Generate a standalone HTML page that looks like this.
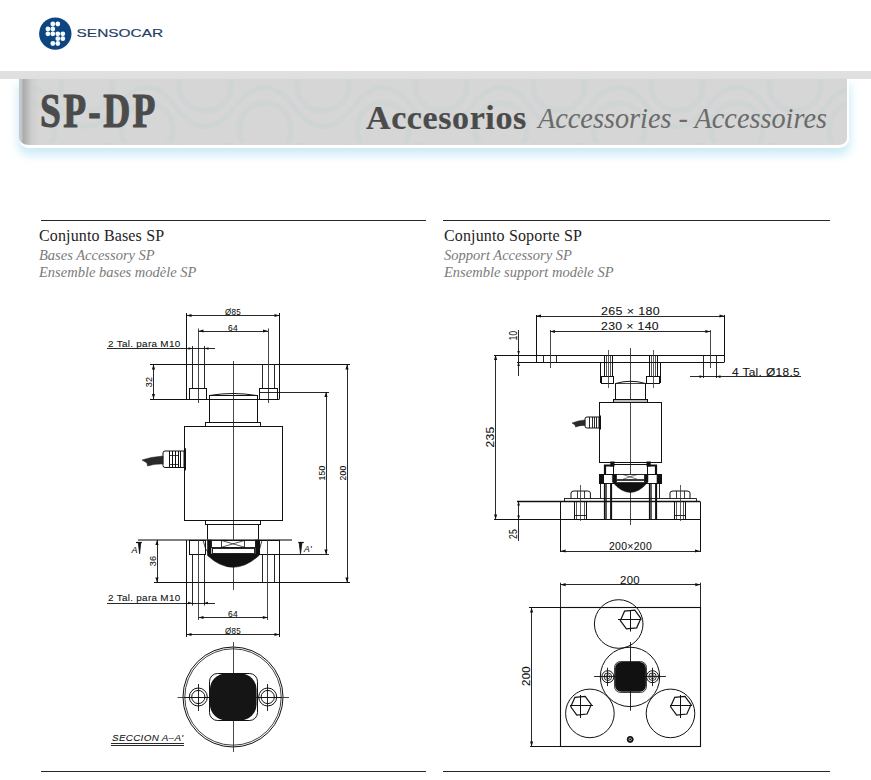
<!DOCTYPE html>
<html><head><meta charset="utf-8">
<style>
html,body{margin:0;padding:0;background:#fff;}
body{width:871px;height:780px;position:relative;overflow:hidden;font-family:"Liberation Serif",serif;}
.abs{position:absolute;white-space:nowrap;line-height:1;}
#band{position:absolute;left:0;top:71px;width:871px;height:8px;background:#e0e0e0;}
#panel{overflow:hidden;position:absolute;left:19px;top:79px;width:828px;height:66px;background:linear-gradient(90deg,#c6ccce 0px,#c0c6c8 3px,#a9a9aa 4px,#b6b6b6 7px,#cecece 13px,#d6d6d6 20px);border:0 solid #fff;border-right-width:2px;border-bottom-width:3px;border-radius:0 0 10px 10px;box-shadow:0 6px 10px 1px rgba(140,210,235,0.45);}
.t1{font-family:"Liberation Serif",serif;font-weight:bold;color:#4b4b4b;transform-origin:0 0;}
.t2{font-family:"Liberation Serif",serif;font-style:italic;color:#6b6b6b;transform-origin:0 0;}
.sec{font-family:"Liberation Serif",serif;color:#1e1e1e;transform-origin:0 0;}
.sub{font-family:"Liberation Serif",serif;font-style:italic;color:#7a7a7a;transform-origin:0 0;}
.rule{position:absolute;height:1px;background:#262626;}
svg{position:absolute;left:0;top:0;}
</style></head>
<body>
<!-- logo -->
<svg width="871" height="780" viewBox="0 0 871 780">
  <circle cx="55.3" cy="33.6" r="16.2" fill="#0c4580"/>
  <g fill="#f4fbff">
    <circle cx="52.8" cy="24" r="2.4"/><circle cx="57.8" cy="24" r="2.4"/>
    <circle cx="47.9" cy="29" r="2.4"/><circle cx="52.8" cy="29" r="2.4"/>
    <circle cx="47.9" cy="33.8" r="2.4"/><circle cx="52.8" cy="33.8" r="2.4"/><circle cx="57.8" cy="33.8" r="2.4"/><circle cx="62.8" cy="33.8" r="2.4"/>
    <circle cx="57.8" cy="38.7" r="2.4"/><circle cx="62.8" cy="38.7" r="2.4"/>
    <circle cx="52.8" cy="43.5" r="2.4"/><circle cx="57.8" cy="43.5" r="2.4"/>
  </g>
  <text x="76.6" y="36.5" font-family="Liberation Sans" font-size="10.3" fill="#1f3e66" stroke="#1f3e66" stroke-width="0.15" textLength="86.5" lengthAdjust="spacingAndGlyphs">SENSOCAR</text>
</svg>

<div id="band"></div>
<div id="panel"><svg width="828" height="66" style="position:absolute;left:0;top:0;border-radius:0 0 10px 10px">
<defs><pattern id="wv" width="118" height="72" patternUnits="userSpaceOnUse" x="-20" y="-8">
<path d="M0,36 C20,10 40,10 59,36 S98,62 118,36" stroke="rgba(185,205,208,0.24)" stroke-width="5" fill="none"/>
<circle cx="30" cy="58" r="26" stroke="rgba(185,205,208,0.2)" stroke-width="6" fill="none"/>
<circle cx="88" cy="14" r="26" stroke="rgba(185,205,208,0.2)" stroke-width="6" fill="none"/>
</pattern></defs>
<rect x="14" y="0" width="814" height="66" fill="url(#wv)"/></svg></div>

<div class="abs t1" id="spdp" style="left:40px;top:87px;font-size:48px;letter-spacing:3px;transform:scaleX(0.78);-webkit-text-stroke:1.1px #4b4b4b;">SP-DP</div>
<div class="abs t1" id="acc" style="left:366px;top:101px;font-size:34px;transform:scaleX(1.0);-webkit-text-stroke:0.2px #4b4b4b;letter-spacing:0.6px;">Accesorios</div>
<div class="abs t2" id="acc2" style="left:538px;top:104px;font-size:29px;transform:scaleX(0.975);">Accessories - Accessoires</div>

<div class="rule" style="left:41px;top:220px;width:385px;"></div>
<div class="rule" style="left:443px;top:220px;width:387px;"></div>
<div class="rule" style="left:41px;top:771px;width:385px;"></div>
<div class="rule" style="left:443px;top:771px;width:387px;"></div>

<div class="abs sec" id="s1" style="left:39px;top:228px;font-size:16px;letter-spacing:0.15px;">Conjunto Bases SP</div>
<div class="abs sub" id="s1a" style="left:39px;top:247.5px;font-size:14.5px;">Bases Accessory SP</div>
<div class="abs sub" id="s1b" style="left:39px;top:264.5px;font-size:14.5px;">Ensemble bases modèle SP</div>
<div class="abs sec" id="s2" style="left:444px;top:228px;font-size:16px;letter-spacing:0.15px;">Conjunto Soporte SP</div>
<div class="abs sub" id="s2a" style="left:444px;top:247.5px;font-size:14.5px;">Sopport Accessory SP</div>
<div class="abs sub" id="s2b" style="left:444px;top:264.5px;font-size:14.5px;">Ensemble support modèle SP</div>

<!--DRAWINGS-->
<svg width="871" height="780" viewBox="0 0 871 780" style="position:absolute;left:0;top:0">
<line x1="233.5" y1="361" x2="233.5" y2="590" stroke="#333" stroke-width="0.9" />
<line x1="150" y1="364.5" x2="350" y2="364.5" stroke="#111" stroke-width="1" />
<line x1="150" y1="399.5" x2="279.5" y2="399.5" stroke="#111" stroke-width="1" />
<line x1="186.5" y1="313" x2="186.5" y2="399" stroke="#111" stroke-width="1" />
<line x1="279.5" y1="313" x2="279.5" y2="399" stroke="#111" stroke-width="1" />
<line x1="192.5" y1="346" x2="192.5" y2="388.5" stroke="#111" stroke-width="0.9" />
<line x1="204.5" y1="346" x2="204.5" y2="388.5" stroke="#111" stroke-width="0.9" />
<line x1="262.5" y1="364.5" x2="262.5" y2="388.5" stroke="#111" stroke-width="0.9" />
<line x1="274.5" y1="364.5" x2="274.5" y2="388.5" stroke="#111" stroke-width="0.9" />
<line x1="198.5" y1="328.5" x2="198.5" y2="403" stroke="#333" stroke-width="0.9" />
<line x1="268.5" y1="328.5" x2="268.5" y2="403" stroke="#333" stroke-width="0.9" />
<rect x="189.5" y="388.5" width="17.00" height="11.00" rx="0" stroke="#111" stroke-width="1" fill="none"/>
<rect x="259.5" y="388.5" width="18.00" height="11.00" rx="0" stroke="#111" stroke-width="1" fill="none"/>
<path d="M209.5,395.5 Q233,391.5 256.5,395.5" stroke="#111" stroke-width="1" fill="none"/>
<line x1="209" y1="395.5" x2="257" y2="395.5" stroke="#111" stroke-width="0.8" />
<rect x="209.5" y="395.5" width="48.00" height="27.00" rx="0" stroke="#111" stroke-width="1" fill="none"/>
<rect x="205.5" y="422.5" width="55.00" height="4.00" rx="0" stroke="#111" stroke-width="1" fill="none"/>
<rect x="184.5" y="426.5" width="98.00" height="94.00" rx="0" stroke="#111" stroke-width="1" fill="none"/>
<rect x="184" y="448.3" width="2.00" height="22.00" rx="0" stroke="#111" stroke-width="0" fill="#111"/>
<path d="M165,451 L184,451 L184,467.5 L165,467.5 Q163,467.5 163,465.5 L163,453 Q163,451 165,451 Z" stroke="#111" stroke-width="1" fill="none"/>
<line x1="169.5" y1="451" x2="169.5" y2="467.5" stroke="#111" stroke-width="1" />
<line x1="172.5" y1="451" x2="172.5" y2="467.5" stroke="#111" stroke-width="1" />
<line x1="175.5" y1="451" x2="175.5" y2="467.5" stroke="#111" stroke-width="1" />
<line x1="178.5" y1="451" x2="178.5" y2="467.5" stroke="#111" stroke-width="1" />
<line x1="180.5" y1="451" x2="180.5" y2="467.5" stroke="#111" stroke-width="1" />
<line x1="169.5" y1="455.5" x2="178.5" y2="455.5" stroke="#111" stroke-width="0.8" />
<line x1="169.5" y1="464.5" x2="178.5" y2="464.5" stroke="#111" stroke-width="0.8" />
<path d="M163,456 Q150,457 142,460 L147,463 L147.5,466 Q155,463.5 163,464 Z" stroke="#222" stroke-width="0.5" fill="#2a2a2a"/>
<rect x="205.5" y="520.5" width="55.00" height="4.00" rx="0" stroke="#111" stroke-width="1" fill="none"/>
<rect x="207.5" y="524.5" width="51.00" height="16.00" rx="0" stroke="#111" stroke-width="1" fill="none"/>
<line x1="138" y1="540" x2="292" y2="540" stroke="#555" stroke-width="1.4" />
<line x1="154" y1="582.5" x2="350" y2="582.5" stroke="#111" stroke-width="1" />
<line x1="186.5" y1="540" x2="186.5" y2="637" stroke="#111" stroke-width="1" />
<line x1="279.5" y1="540" x2="279.5" y2="637" stroke="#111" stroke-width="1" />
<rect x="189.5" y="540.5" width="16.00" height="14.00" rx="0" stroke="#111" stroke-width="1" fill="none"/>
<rect x="259.5" y="540.5" width="20.00" height="14.00" rx="0" stroke="#111" stroke-width="1" fill="none"/>
<path d="M203,540 Q205,550 209,554" stroke="#111" stroke-width="0.8" fill="none"/>
<path d="M262,540 Q260,550 257,554" stroke="#111" stroke-width="0.8" fill="none"/>
<line x1="192.5" y1="554.5" x2="192.5" y2="582.5" stroke="#111" stroke-width="0.9" />
<line x1="204.5" y1="554.5" x2="204.5" y2="582.5" stroke="#111" stroke-width="0.9" />
<line x1="262.5" y1="554.5" x2="262.5" y2="582.5" stroke="#111" stroke-width="0.9" />
<line x1="274.5" y1="554.5" x2="274.5" y2="582.5" stroke="#111" stroke-width="0.9" />
<line x1="192.5" y1="582.5" x2="192.5" y2="605.5" stroke="#111" stroke-width="0.9" />
<line x1="204.5" y1="582.5" x2="204.5" y2="605.5" stroke="#111" stroke-width="0.9" />
<line x1="198.5" y1="540" x2="198.5" y2="620" stroke="#333" stroke-width="0.9" />
<line x1="267.5" y1="540" x2="267.5" y2="620" stroke="#333" stroke-width="0.9" />
<path d="M207.5,540 L211,540 L211,554 L255.5,554 L255.5,540 L259,540 L259,555.5 Q233,579 207.5,555.5 Z" stroke="#111" stroke-width="0.6" fill="#111"/>
<rect x="211.5" y="540.5" width="44.00" height="7.00" rx="0" stroke="#111" stroke-width="0.9" fill="#fff"/>
<rect x="212.5" y="548.5" width="42.00" height="5.00" rx="0" stroke="#111" stroke-width="0.9" fill="#fff"/>
<rect x="221.5" y="540.5" width="23.00" height="7.00" rx="0" stroke="#111" stroke-width="0.8" fill="none"/>
<line x1="221.7" y1="540.5" x2="244.4" y2="547.2" stroke="#111" stroke-width="0.7" />
<line x1="221.7" y1="547.2" x2="244.4" y2="540.5" stroke="#111" stroke-width="0.7" />
<line x1="186.5" y1="315.5" x2="279.5" y2="315.5" stroke="#111" stroke-width="0.9" />
<path d="M186.5,315.5 L191.5,313.9 L191.5,317.1 Z" fill="#111"/>
<path d="M279.5,315.5 L274.5,313.9 L274.5,317.1 Z" fill="#111"/>
<text x="233" y="315" font-family="Liberation Sans" font-size="8.6" text-anchor="middle" fill="#111" stroke="#111" stroke-width="0.08" letter-spacing="0.3" textLength="16" lengthAdjust="spacingAndGlyphs" >Ø85</text>
<line x1="198.5" y1="331.5" x2="268" y2="331.5" stroke="#111" stroke-width="0.9" />
<path d="M198.5,331 L203.5,329.4 L203.5,332.6 Z" fill="#111"/>
<path d="M268,331 L263,329.4 L263,332.6 Z" fill="#111"/>
<text x="233" y="330.5" font-family="Liberation Sans" font-size="8.6" text-anchor="middle" fill="#111" stroke="#111" stroke-width="0.08" letter-spacing="0.3" textLength="10" lengthAdjust="spacingAndGlyphs" >64</text>
<text x="108" y="346.7" font-family="Liberation Sans" font-size="9.4" text-anchor="start" fill="#111" stroke="#111" stroke-width="0.08" letter-spacing="0.3" textLength="72.5" lengthAdjust="spacingAndGlyphs" >2 Tal. para M10</text>
<line x1="107" y1="348.5" x2="215" y2="348.5" stroke="#111" stroke-width="0.9" />
<path d="M192.5,348.5 L188.5,347.2 L188.5,349.8 Z" fill="#111"/>
<path d="M204.5,348.5 L208.5,347.2 L208.5,349.8 Z" fill="#111"/>
<line x1="153.5" y1="364.5" x2="153.5" y2="399" stroke="#111" stroke-width="0.9" />
<path d="M153.5,364.5 L151.9,369.5 L155.1,369.5 Z" fill="#111"/>
<path d="M153.5,399 L151.9,394 L155.1,394 Z" fill="#111"/>
<text x="152" y="382" font-family="Liberation Sans" font-size="9" text-anchor="middle" fill="#111" stroke="#111" stroke-width="0.08" letter-spacing="0.3" transform="rotate(-90 152 382)" >32</text>
<line x1="260" y1="392.5" x2="329" y2="392.5" stroke="#111" stroke-width="0.9" />
<line x1="326.5" y1="392" x2="326.5" y2="554.5" stroke="#111" stroke-width="0.9" />
<path d="M326,392 L324.4,397 L327.6,397 Z" fill="#111"/>
<path d="M326,554.5 L324.4,549.5 L327.6,549.5 Z" fill="#111"/>
<text x="324.5" y="473" font-family="Liberation Sans" font-size="9" text-anchor="middle" fill="#111" stroke="#111" stroke-width="0.08" letter-spacing="0.3" transform="rotate(-90 324.5 473)" textLength="15" lengthAdjust="spacingAndGlyphs" >150</text>
<line x1="347.5" y1="364.5" x2="347.5" y2="582.5" stroke="#111" stroke-width="0.9" />
<path d="M347,364.5 L345.4,369.5 L348.6,369.5 Z" fill="#111"/>
<path d="M347,582.5 L345.4,577.5 L348.6,577.5 Z" fill="#111"/>
<text x="346" y="473" font-family="Liberation Sans" font-size="9" text-anchor="middle" fill="#111" stroke="#111" stroke-width="0.08" letter-spacing="0.3" transform="rotate(-90 346 473)" textLength="15" lengthAdjust="spacingAndGlyphs" >200</text>
<line x1="279.5" y1="554.5" x2="329" y2="554.5" stroke="#111" stroke-width="0.9" />
<line x1="157.5" y1="540" x2="157.5" y2="582.5" stroke="#111" stroke-width="0.9" />
<path d="M157,540 L155.4,545 L158.6,545 Z" fill="#111"/>
<path d="M157,582.5 L155.4,577.5 L158.6,577.5 Z" fill="#111"/>
<text x="155.5" y="561" font-family="Liberation Sans" font-size="9" text-anchor="middle" fill="#111" stroke="#111" stroke-width="0.08" letter-spacing="0.3" transform="rotate(-90 155.5 561)" >36</text>
<line x1="136" y1="542.5" x2="141.8" y2="542.5" stroke="#111" stroke-width="1.2" />
<path d="M138.3,542.5 L140.8,542.5 L139.6,553.8 Z" stroke="#111" stroke-width="0.8" fill="#111"/>
<text x="131.5" y="553" font-family="Liberation Sans" font-size="9" text-anchor="start" fill="#111" stroke="#111" stroke-width="0.08" letter-spacing="0.3" font-style="italic">A</text>
<line x1="298.3" y1="542.5" x2="303.8" y2="542.5" stroke="#111" stroke-width="1.2" />
<path d="M299.2,542.5 L302,542.5 L300.5,553.8 Z" stroke="#111" stroke-width="0.8" fill="#111"/>
<text x="304" y="551.8" font-family="Liberation Sans" font-size="8.6" text-anchor="start" fill="#111" stroke="#111" stroke-width="0.08" letter-spacing="0.3" font-style="italic">A'</text>
<text x="108" y="600.5" font-family="Liberation Sans" font-size="9.4" text-anchor="start" fill="#111" stroke="#111" stroke-width="0.08" letter-spacing="0.3" textLength="72.5" lengthAdjust="spacingAndGlyphs" >2 Tal. para M10</text>
<line x1="107" y1="603.5" x2="215" y2="603.5" stroke="#111" stroke-width="0.9" />
<path d="M192,603 L188,601.7 L188,604.3 Z" fill="#111"/>
<path d="M204,603 L208,601.7 L208,604.3 Z" fill="#111"/>
<line x1="198.5" y1="617.5" x2="267.8" y2="617.5" stroke="#111" stroke-width="0.9" />
<path d="M198.5,617.5 L203.5,615.9 L203.5,619.1 Z" fill="#111"/>
<path d="M267.8,617.5 L262.8,615.9 L262.8,619.1 Z" fill="#111"/>
<text x="233" y="617.3" font-family="Liberation Sans" font-size="8.6" text-anchor="middle" fill="#111" stroke="#111" stroke-width="0.08" letter-spacing="0.3" textLength="10" lengthAdjust="spacingAndGlyphs" >64</text>
<line x1="186.5" y1="634.5" x2="279.5" y2="634.5" stroke="#111" stroke-width="0.9" />
<path d="M186.5,634.5 L191.5,632.9 L191.5,636.1 Z" fill="#111"/>
<path d="M279.5,634.5 L274.5,632.9 L274.5,636.1 Z" fill="#111"/>
<text x="233" y="634.3" font-family="Liberation Sans" font-size="8.6" text-anchor="middle" fill="#111" stroke="#111" stroke-width="0.08" letter-spacing="0.3" textLength="16" lengthAdjust="spacingAndGlyphs" >Ø85</text>
<circle cx="233" cy="697" r="50" stroke="#111" stroke-width="1" fill="none"/>
<circle cx="233" cy="697" r="48.2" stroke="#111" stroke-width="0.8" fill="none"/>
<line x1="233.5" y1="642" x2="233.5" y2="752" stroke="#333" stroke-width="0.9" />
<line x1="177.5" y1="697.5" x2="289" y2="697.5" stroke="#333" stroke-width="0.9" />
<rect x="209.5" y="673.5" width="48.00" height="47.00" rx="8" stroke="#111" stroke-width="1" fill="none"/>
<rect x="209.9" y="673.6" width="46.70" height="46.70" rx="16" stroke="#111" stroke-width="0" fill="#151515"/>
<circle cx="198.3" cy="697" r="9.0" stroke="#111" stroke-width="1" fill="none"/>
<circle cx="198.3" cy="697" r="6.6" stroke="#111" stroke-width="1" fill="none"/>
<line x1="184.3" y1="697.5" x2="212.3" y2="697.5" stroke="#111" stroke-width="0.9" />
<line x1="198.5" y1="684" x2="198.5" y2="711" stroke="#111" stroke-width="0.9" />
<circle cx="267.7" cy="697" r="9.0" stroke="#111" stroke-width="1" fill="none"/>
<circle cx="267.7" cy="697" r="6.6" stroke="#111" stroke-width="1" fill="none"/>
<line x1="253.7" y1="697.5" x2="281.7" y2="697.5" stroke="#111" stroke-width="0.9" />
<line x1="267.5" y1="684" x2="267.5" y2="711" stroke="#111" stroke-width="0.9" />
<text x="112" y="741.3" font-family="Liberation Sans" font-size="9.5" text-anchor="start" fill="#111" stroke="#111" stroke-width="0.08" letter-spacing="0.3" textLength="71.5" lengthAdjust="spacingAndGlyphs" font-style="italic">SECCION  A–A'</text>
<line x1="111" y1="743.5" x2="184" y2="743.5" stroke="#111" stroke-width="0.9" />
<line x1="111" y1="745.5" x2="184" y2="745.5" stroke="#111" stroke-width="0.9" />
<line x1="630.5" y1="348" x2="630.5" y2="525" stroke="#333" stroke-width="0.9" />
<line x1="494" y1="355.5" x2="724.5" y2="355.5" stroke="#111" stroke-width="1" />
<line x1="517" y1="362.5" x2="724.5" y2="362.5" stroke="#111" stroke-width="1" />
<line x1="536.5" y1="315" x2="536.5" y2="362" stroke="#111" stroke-width="1" />
<line x1="724.5" y1="315" x2="724.5" y2="362" stroke="#111" stroke-width="1" />
<line x1="543.5" y1="355" x2="543.5" y2="362" stroke="#111" stroke-width="0.9" />
<line x1="556.5" y1="355" x2="556.5" y2="362" stroke="#111" stroke-width="0.9" />
<line x1="550.5" y1="330" x2="550.5" y2="368" stroke="#333" stroke-width="0.9" />
<line x1="710.5" y1="330" x2="710.5" y2="368" stroke="#333" stroke-width="0.9" />
<line x1="703.5" y1="355" x2="703.5" y2="378" stroke="#111" stroke-width="0.9" />
<line x1="716.5" y1="355" x2="716.5" y2="378" stroke="#111" stroke-width="0.9" />
<line x1="536" y1="316.5" x2="724.5" y2="316.5" stroke="#111" stroke-width="0.9" />
<path d="M536,316 L541,314.4 L541,317.6 Z" fill="#111"/>
<path d="M724.5,316 L719.5,314.4 L719.5,317.6 Z" fill="#111"/>
<text x="630.5" y="315" font-family="Liberation Sans" font-size="10.3" text-anchor="middle" fill="#111" stroke="#111" stroke-width="0.08" letter-spacing="0.3" textLength="59" lengthAdjust="spacingAndGlyphs" >265 × 180</text>
<line x1="550" y1="331.5" x2="710.4" y2="331.5" stroke="#111" stroke-width="0.9" />
<path d="M550,331.5 L555,329.9 L555,333.1 Z" fill="#111"/>
<path d="M710.4,331.5 L705.4,329.9 L705.4,333.1 Z" fill="#111"/>
<text x="630" y="330.2" font-family="Liberation Sans" font-size="10.3" text-anchor="middle" fill="#111" stroke="#111" stroke-width="0.08" letter-spacing="0.3" textLength="58" lengthAdjust="spacingAndGlyphs" >230 × 140</text>
<line x1="518.5" y1="330" x2="518.5" y2="376" stroke="#111" stroke-width="0.9" />
<path d="M518.6,355 L517.3000000000001,351 L519.9,351 Z" fill="#111"/>
<path d="M518.6,362 L517.3000000000001,366 L519.9,366 Z" fill="#111"/>
<text x="517" y="335.5" font-family="Liberation Sans" font-size="10" text-anchor="middle" fill="#111" stroke="#111" stroke-width="0.08" letter-spacing="0.3" transform="rotate(-90 517 335.5)" textLength="9.5" lengthAdjust="spacingAndGlyphs" >10</text>
<line x1="495.5" y1="355" x2="495.5" y2="519.4" stroke="#111" stroke-width="0.9" />
<path d="M495.6,355 L494.0,360 L497.20000000000005,360 Z" fill="#111"/>
<path d="M495.6,519.4 L494.0,514.4 L497.20000000000005,514.4 Z" fill="#111"/>
<text x="494" y="437" font-family="Liberation Sans" font-size="10.5" text-anchor="middle" fill="#111" stroke="#111" stroke-width="0.08" letter-spacing="0.3" transform="rotate(-90 494 437)" textLength="21" lengthAdjust="spacingAndGlyphs" >235</text>
<text x="732" y="375.5" font-family="Liberation Sans" font-size="10.3" text-anchor="start" fill="#111" stroke="#111" stroke-width="0.08" letter-spacing="0.3" textLength="68" lengthAdjust="spacingAndGlyphs" >4  Tal.  Ø18.5</text>
<line x1="690" y1="376.5" x2="801" y2="376.5" stroke="#111" stroke-width="0.9" />
<path d="M703.5,376.6 L699.5,375.3 L699.5,377.90000000000003 Z" fill="#111"/>
<path d="M716.5,376.6 L720.5,375.3 L720.5,377.90000000000003 Z" fill="#111"/>
<rect x="604.5" y="355.5" width="8.00" height="21.00" rx="0" stroke="#111" stroke-width="1" fill="none"/>
<line x1="606.5" y1="355" x2="606.5" y2="376.6" stroke="#111" stroke-width="0.7" />
<line x1="610.5" y1="355" x2="610.5" y2="376.6" stroke="#111" stroke-width="0.7" />
<rect x="601.5" y="376.5" width="12.00" height="7.00" rx="0" stroke="#111" stroke-width="1" fill="none"/>
<line x1="600.5" y1="362" x2="600.5" y2="383" stroke="#111" stroke-width="1" />
<line x1="608.5" y1="350" x2="608.5" y2="388" stroke="#333" stroke-width="0.8" />
<rect x="649.5" y="355.5" width="8.00" height="21.00" rx="0" stroke="#111" stroke-width="1" fill="none"/>
<line x1="651.5" y1="355" x2="651.5" y2="376.6" stroke="#111" stroke-width="0.7" />
<line x1="655.5" y1="355" x2="655.5" y2="376.6" stroke="#111" stroke-width="0.7" />
<rect x="646.5" y="376.5" width="13.00" height="7.00" rx="0" stroke="#111" stroke-width="1" fill="none"/>
<line x1="660.5" y1="362" x2="660.5" y2="383" stroke="#111" stroke-width="1" />
<line x1="653.5" y1="350" x2="653.5" y2="388" stroke="#333" stroke-width="0.8" />
<path d="M615.5,383.5 Q630.5,379 645.5,383.5" stroke="#111" stroke-width="1" fill="none"/>
<line x1="615.5" y1="383.5" x2="615.5" y2="399" stroke="#111" stroke-width="1" />
<line x1="645.5" y1="383.5" x2="645.5" y2="399" stroke="#111" stroke-width="1" />
<line x1="615" y1="383.5" x2="646" y2="383.5" stroke="#111" stroke-width="0.8" />
<rect x="613.5" y="399.5" width="34.00" height="3.00" rx="0" stroke="#111" stroke-width="1" fill="#bbb"/>
<rect x="599.5" y="402.5" width="62.00" height="60.00" rx="0" stroke="#111" stroke-width="1" fill="none"/>
<rect x="599" y="415.5" width="2.00" height="14.00" rx="0" stroke="#111" stroke-width="0" fill="#111"/>
<path d="M587,417 L599,417 L599,428 L587,428 Q585,428 585,426 L585,419 Q585,417 587,417 Z" stroke="#111" stroke-width="1" fill="none"/>
<line x1="589.5" y1="417" x2="589.5" y2="428" stroke="#111" stroke-width="0.9" />
<line x1="592.5" y1="417" x2="592.5" y2="428" stroke="#111" stroke-width="0.9" />
<line x1="594.5" y1="417" x2="594.5" y2="428" stroke="#111" stroke-width="0.9" />
<line x1="596.5" y1="417" x2="596.5" y2="428" stroke="#111" stroke-width="0.9" />
<path d="M585,420 Q578,420.5 572,423 L575,425 L575.5,427 Q580,425 585,425.5 Z" stroke="#222" stroke-width="0.5" fill="#2a2a2a"/>
<rect x="610.3" y="461.5" width="4.20" height="5.00" rx="0" stroke="#111" stroke-width="0" fill="#111"/>
<rect x="646.5" y="461.5" width="4.20" height="5.00" rx="0" stroke="#111" stroke-width="0" fill="#111"/>
<line x1="614" y1="464.5" x2="647" y2="464.5" stroke="#111" stroke-width="1" />
<path d="M605,475 L605,465.5 L613.5,465.5" stroke="#111" stroke-width="2.2" fill="none"/>
<path d="M656,475 L656,465.5 L647.5,465.5" stroke="#111" stroke-width="2.2" fill="none"/>
<line x1="613.5" y1="466" x2="613.5" y2="475" stroke="#111" stroke-width="1" />
<line x1="647.5" y1="466" x2="647.5" y2="475" stroke="#111" stroke-width="1" />
<rect x="599.5" y="474.5" width="62.00" height="9.00" rx="0" stroke="#111" stroke-width="1" fill="none"/>
<rect x="599" y="474.5" width="5.00" height="8.80" rx="0" stroke="#111" stroke-width="0" fill="#111"/>
<rect x="656.7" y="474.5" width="5.00" height="8.80" rx="0" stroke="#111" stroke-width="0" fill="#111"/>
<path d="M612.4,475 L616,475 L616,483 L644,483 L644,475 L648,475 L648,482 Q630.5,503 612.4,482 Z" stroke="#111" stroke-width="0.5" fill="#111"/>
<rect x="616.5" y="474.5" width="28.00" height="5.00" rx="0" stroke="#111" stroke-width="0.8" fill="#fff"/>
<rect x="616.5" y="480.5" width="28.00" height="2.00" rx="0" stroke="#111" stroke-width="0.8" fill="#fff"/>
<line x1="623" y1="474.5" x2="637" y2="479.2" stroke="#111" stroke-width="0.6" />
<line x1="623" y1="479.2" x2="637" y2="474.5" stroke="#111" stroke-width="0.6" />
<line x1="604.8" y1="483.3" x2="604.8" y2="519.4" stroke="#111" stroke-width="1.8" />
<line x1="611.2" y1="483.3" x2="611.2" y2="519.4" stroke="#111" stroke-width="1.8" />
<line x1="604" y1="519.5" x2="612" y2="519.5" stroke="#111" stroke-width="1" />
<line x1="606.5" y1="483.3" x2="606.5" y2="519.4" stroke="#111" stroke-width="0.7" />
<line x1="610.5" y1="483.3" x2="610.5" y2="519.4" stroke="#111" stroke-width="0.7" />
<line x1="649.8" y1="483.3" x2="649.8" y2="519.4" stroke="#111" stroke-width="1.8" />
<line x1="656.2" y1="483.3" x2="656.2" y2="519.4" stroke="#111" stroke-width="1.8" />
<line x1="649" y1="519.5" x2="657" y2="519.5" stroke="#111" stroke-width="1" />
<line x1="651.5" y1="483.3" x2="651.5" y2="519.4" stroke="#111" stroke-width="0.7" />
<line x1="655.5" y1="483.3" x2="655.5" y2="519.4" stroke="#111" stroke-width="0.7" />
<line x1="600.5" y1="483.3" x2="600.5" y2="498.4" stroke="#111" stroke-width="0.9" />
<line x1="659.5" y1="483.3" x2="659.5" y2="498.4" stroke="#111" stroke-width="0.9" />
<line x1="564" y1="498.5" x2="696.4" y2="498.5" stroke="#111" stroke-width="0.9" />
<line x1="564.5" y1="498.4" x2="564.5" y2="501" stroke="#111" stroke-width="0.9" />
<line x1="696.5" y1="498.4" x2="696.5" y2="501" stroke="#111" stroke-width="0.9" />
<line x1="517" y1="501.5" x2="700" y2="501.5" stroke="#111" stroke-width="1.3" />
<line x1="494" y1="519.5" x2="700" y2="519.5" stroke="#111" stroke-width="1.2" />
<line x1="560.5" y1="501.5" x2="560.5" y2="552" stroke="#111" stroke-width="1" />
<line x1="700.5" y1="501.5" x2="700.5" y2="552" stroke="#111" stroke-width="1" />
<path d="M571,498.4 L571,493 Q571,491 574,491 L587.4,491 Q590.4,491 590.4,493 L590.4,498.4" stroke="#111" stroke-width="1" fill="none"/>
<line x1="577.5" y1="491" x2="577.5" y2="498.4" stroke="#111" stroke-width="0.8" />
<line x1="584.5" y1="491" x2="584.5" y2="498.4" stroke="#111" stroke-width="0.8" />
<rect x="574.5" y="501.5" width="12.00" height="18.00" rx="0" stroke="#111" stroke-width="1" fill="none"/>
<line x1="576.5" y1="501.5" x2="576.5" y2="519.4" stroke="#111" stroke-width="0.7" />
<line x1="584.5" y1="501.5" x2="584.5" y2="519.4" stroke="#111" stroke-width="0.7" />
<line x1="574.4" y1="515.5" x2="586.4" y2="515.5" stroke="#111" stroke-width="0.9" />
<line x1="580.5" y1="485" x2="580.5" y2="521" stroke="#333" stroke-width="0.8" />
<path d="M670,498.4 L670,493 Q670,491 673,491 L687,491 Q690,491 690,493 L690,498.4" stroke="#111" stroke-width="1" fill="none"/>
<line x1="676.5" y1="491" x2="676.5" y2="498.4" stroke="#111" stroke-width="0.8" />
<line x1="684.5" y1="491" x2="684.5" y2="498.4" stroke="#111" stroke-width="0.8" />
<rect x="674.5" y="501.5" width="11.00" height="18.00" rx="0" stroke="#111" stroke-width="1" fill="none"/>
<line x1="676.5" y1="501.5" x2="676.5" y2="519.4" stroke="#111" stroke-width="0.7" />
<line x1="683.5" y1="501.5" x2="683.5" y2="519.4" stroke="#111" stroke-width="0.7" />
<line x1="674.4" y1="515.5" x2="685.6" y2="515.5" stroke="#111" stroke-width="0.9" />
<line x1="680.5" y1="485" x2="680.5" y2="521" stroke="#333" stroke-width="0.8" />
<line x1="518.5" y1="501.5" x2="518.5" y2="541" stroke="#111" stroke-width="0.9" />
<path d="M518.6,501.5 L517.3000000000001,505.5 L519.9,505.5 Z" fill="#111"/>
<path d="M518.6,519.4 L517.3000000000001,515.4 L519.9,515.4 Z" fill="#111"/>
<text x="517" y="534" font-family="Liberation Sans" font-size="10" text-anchor="middle" fill="#111" stroke="#111" stroke-width="0.08" letter-spacing="0.3" transform="rotate(-90 517 534)" textLength="10" lengthAdjust="spacingAndGlyphs" >25</text>
<line x1="560.6" y1="551.5" x2="700" y2="551.5" stroke="#111" stroke-width="0.9" />
<path d="M560.6,551 L565.6,549.4 L565.6,552.6 Z" fill="#111"/>
<path d="M700,551 L695,549.4 L695,552.6 Z" fill="#111"/>
<text x="630.5" y="550.2" font-family="Liberation Sans" font-size="10.5" text-anchor="middle" fill="#111" stroke="#111" stroke-width="0.08" letter-spacing="0.3" textLength="43" lengthAdjust="spacingAndGlyphs" >200×200</text>
<rect x="560.5" y="607.5" width="140.00" height="139.00" rx="0" stroke="#111" stroke-width="1.1" fill="none"/>
<line x1="529" y1="607.5" x2="560.6" y2="607.5" stroke="#111" stroke-width="1" />
<line x1="530" y1="746.5" x2="560.6" y2="746.5" stroke="#111" stroke-width="1" />
<line x1="531.5" y1="607.4" x2="531.5" y2="746.5" stroke="#111" stroke-width="0.9" />
<path d="M531.6,607.4 L530.0,612.4 L533.2,612.4 Z" fill="#111"/>
<path d="M531.6,746.5 L530.0,741.5 L533.2,741.5 Z" fill="#111"/>
<text x="530" y="676" font-family="Liberation Sans" font-size="10.5" text-anchor="middle" fill="#111" stroke="#111" stroke-width="0.08" letter-spacing="0.3" transform="rotate(-90 530 676)" textLength="20" lengthAdjust="spacingAndGlyphs" >200</text>
<line x1="560.6" y1="584.5" x2="700.3" y2="584.5" stroke="#111" stroke-width="0.9" />
<path d="M560.6,584.7 L565.6,583.1 L565.6,586.3000000000001 Z" fill="#111"/>
<path d="M700.3,584.7 L695.3,583.1 L695.3,586.3000000000001 Z" fill="#111"/>
<line x1="560.5" y1="582.7" x2="560.5" y2="607.4" stroke="#111" stroke-width="0.9" />
<line x1="700.5" y1="582.7" x2="700.5" y2="607.4" stroke="#111" stroke-width="0.9" />
<text x="630" y="584" font-family="Liberation Sans" font-size="10.5" text-anchor="middle" fill="#111" stroke="#111" stroke-width="0.08" letter-spacing="0.3" textLength="20" lengthAdjust="spacingAndGlyphs" >200</text>
<circle cx="618.7" cy="624" r="24.3" stroke="#111" stroke-width="1" fill="none"/>
<circle cx="589.9" cy="713.4" r="24.3" stroke="#111" stroke-width="1" fill="none"/>
<circle cx="670.5" cy="713.4" r="24.3" stroke="#111" stroke-width="1" fill="none"/>
<circle cx="630" cy="676.9" r="29.7" stroke="#111" stroke-width="1" fill="none"/>
<path d="M640.84,618.42 L636.65,627.83 L626.41,628.91 L620.36,620.58 L624.55,611.17 L634.79,610.09 Z" stroke="#111" stroke-width="1.2" fill="none"/>
<line x1="618" y1="619.5" x2="641.5" y2="619.5" stroke="#111" stroke-width="1" />
<line x1="630.5" y1="610" x2="630.5" y2="631.5" stroke="#111" stroke-width="1" />
<path d="M591.24,704.62 L587.05,714.03 L576.81,715.11 L570.76,706.78 L574.95,697.37 L585.19,696.29 Z" stroke="#111" stroke-width="1.2" fill="none"/>
<line x1="570" y1="705.5" x2="593" y2="705.5" stroke="#111" stroke-width="1" />
<line x1="580.5" y1="695" x2="580.5" y2="718" stroke="#111" stroke-width="1" />
<path d="M691.04,704.62 L686.85,714.03 L676.61,715.11 L670.56,706.78 L674.75,697.37 L684.99,696.29 Z" stroke="#111" stroke-width="1.2" fill="none"/>
<line x1="670" y1="705.5" x2="692" y2="705.5" stroke="#111" stroke-width="1" />
<line x1="680.5" y1="695" x2="680.5" y2="718" stroke="#111" stroke-width="1" />
<rect x="614.5" y="661.5" width="32.00" height="31.00" rx="6" stroke="#111" stroke-width="0.8" fill="none"/>
<rect x="615.1" y="662" width="30.80" height="29.80" rx="6" stroke="#111" stroke-width="0" fill="#111"/>
<line x1="594.1" y1="676.5" x2="665.9" y2="676.5" stroke="#111" stroke-width="0.9" />
<line x1="630.5" y1="642" x2="630.5" y2="710.7" stroke="#111" stroke-width="0.9" />
<circle cx="607.9" cy="676.7" r="6" stroke="#111" stroke-width="1" fill="none"/>
<circle cx="607.9" cy="676.7" r="3.8" stroke="#111" stroke-width="0.9" fill="none"/>
<circle cx="607.9" cy="676.7" r="2" stroke="#111" stroke-width="0.7" fill="none"/>
<line x1="607.5" y1="667.7" x2="607.5" y2="686.1" stroke="#111" stroke-width="0.9" />
<circle cx="652.5" cy="676.7" r="6" stroke="#111" stroke-width="1" fill="none"/>
<circle cx="652.5" cy="676.7" r="3.8" stroke="#111" stroke-width="0.9" fill="none"/>
<circle cx="652.5" cy="676.7" r="2" stroke="#111" stroke-width="0.7" fill="none"/>
<line x1="652.5" y1="667.7" x2="652.5" y2="686.1" stroke="#111" stroke-width="0.9" />
<circle cx="630.2" cy="739.4" r="3" stroke="#111" stroke-width="1" fill="#111"/>
<circle cx="630.2" cy="739.4" r="1.3" stroke="#fff" stroke-width="0.6" fill="none"/>
</svg>
<!--/DRAWINGS-->
</body></html>
